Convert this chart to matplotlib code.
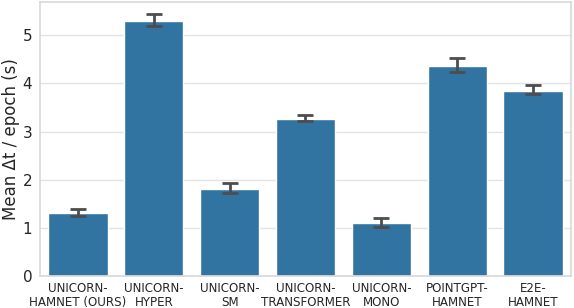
import numpy as np
import matplotlib
matplotlib.use("Agg")
import matplotlib.pyplot as plt
import seaborn as sns

models = ["UNICORN-\nHAMNET (OURS)", "UNICORN-\nHYPER", "UNICORN-\nSM",
          "UNICORN-\nTRANSFORMER", "UNICORN-\nMONO", "POINTGPT-\nHAMNET", "E2E-\nHAMNET"]
mean_dt = [1.31, 5.30, 1.81, 3.26, 1.10, 4.37, 3.85]
err_low = [1.25, 5.19, 1.73, 3.21, 1.02, 4.23, 3.77]
err_high = [1.39, 5.45, 1.94, 3.34, 1.20, 4.53, 3.97]

sns.set_theme(style="whitegrid")
plt.rcParams["font.family"] = ["DejaVu Sans"]
plt.rcParams["grid.color"] = "#e3e3e3"
plt.rcParams["axes.edgecolor"] = "#d9d9d9"

fig = plt.figure(figsize=(5.74, 3.08), dpi=100)
ax = fig.add_axes([0.0697, 0.104, 0.925, 0.891])

x = np.arange(len(models))
mean_dt = np.array(mean_dt)
yerr = [mean_dt - np.array(err_low), np.array(err_high) - mean_dt]

ax.bar(x, mean_dt, width=0.78, color="#3274a1", zorder=2)
ax.errorbar(x, mean_dt, yerr=yerr, fmt="none", ecolor="#4d4d4d",
            elinewidth=2.0, capsize=6, capthick=2.0, zorder=3)

ax.set_xlim(-0.5, len(models) - 0.5)
ax.set_ylim(0, 5.7)
ax.set_yticks([0, 1, 2, 3, 4, 5])
ax.set_xticks(x)
ax.set_xticklabels(models, fontsize=8.6, linespacing=1.1)
ax.tick_params(axis="both", length=0)
ax.tick_params(axis="y", labelsize=11, pad=5.5)
ax.tick_params(axis="x", pad=4.5)
ax.set_ylabel("Mean Δt / epoch (s)", fontsize=12, labelpad=2)
ax.grid(axis="x", visible=False)

fig.savefig("out.png", dpi=100)
